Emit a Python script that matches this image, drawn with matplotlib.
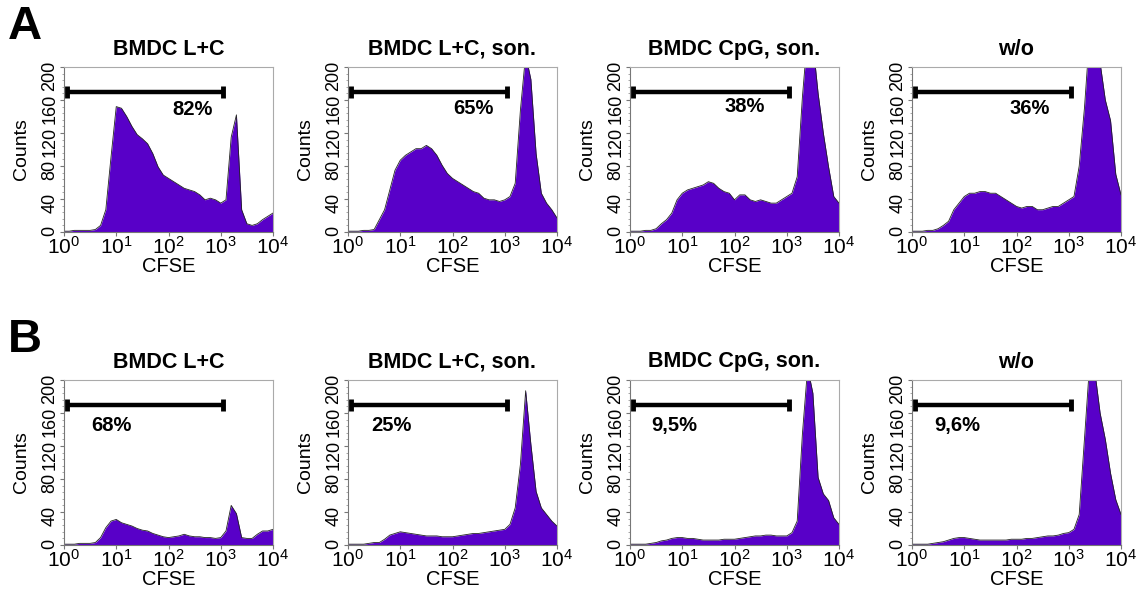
import numpy as np
import matplotlib.pyplot as plt
from matplotlib.ticker import MultipleLocator, LogLocator, NullFormatter

plt.rcParams['font.family'] = ['Liberation Sans', 'DejaVu Sans']
plt.rcParams['mathtext.default'] = 'regular'

# CFSE channel positions (decades, 0.1 steps from 10^0 to 10^4)
log_cfse = np.linspace(0, 4, 41)

titles = ["BMDC L+C", "BMDC L+C, son.", "BMDC CpG, son.", "w/o"]

# counts per channel, row A
a_lc = [1, 1, 2, 2, 2, 2, 3, 8, 27, 91,
        152, 150, 140, 128, 118, 113, 107, 95, 79, 69,
        65, 61, 57, 53, 51, 49, 45, 39, 41, 39,
        35, 39, 115, 142, 27, 10, 8, 10, 15, 19, 23]
a_lc_son = [1, 1, 1, 2, 2, 3, 15, 27, 51, 75,
            87, 93, 97, 101, 101, 105, 101, 93, 81, 71,
            65, 61, 57, 53, 49, 47, 41, 39, 39, 37,
            39, 43, 59, 148, 215, 185, 95, 47, 35, 27, 17]
a_cpg_son = [1, 1, 1, 2, 2, 4, 10, 15, 23, 39,
             47, 51, 53, 55, 57, 61, 59, 53, 49, 47,
             39, 45, 45, 39, 37, 39, 37, 35, 35, 39,
             43, 47, 67, 164, 240, 230, 168, 120, 79, 43, 35]
a_wo = [1, 1, 1, 2, 2, 4, 8, 13, 27, 35,
        43, 47, 47, 49, 49, 47, 47, 43, 39, 35,
        31, 29, 31, 31, 27, 27, 29, 31, 31, 35,
        39, 43, 80, 150, 240, 230, 205, 160, 135, 70, 45]

# counts per channel, row B
b_lc = [1, 1, 1, 2, 2, 2, 3, 9, 21, 29,
        31, 27, 25, 23, 20, 18, 17, 14, 12, 10,
        9, 10, 11, 13, 11, 10, 10, 9, 9, 8,
        9, 17, 48, 38, 9, 8, 8, 13, 17, 17, 19]
b_lc_son = [1, 1, 1, 1, 2, 3, 3, 7, 12, 14,
            16, 15, 14, 13, 12, 11, 11, 11, 10, 10,
            10, 11, 12, 13, 14, 14, 15, 16, 17, 18,
            19, 25, 45, 98, 187, 122, 65, 45, 37, 29, 23]
b_cpg_son = [1, 1, 1, 1, 2, 3, 5, 6, 8, 9,
             9, 8, 8, 7, 6, 6, 6, 6, 7, 7,
             7, 8, 9, 10, 11, 11, 12, 12, 11, 11,
             11, 15, 29, 135, 215, 184, 82, 62, 54, 33, 25]
b_wo = [1, 1, 1, 1, 2, 3, 4, 6, 8, 9,
        9, 8, 7, 6, 6, 6, 6, 6, 6, 7,
        7, 7, 8, 8, 9, 10, 11, 11, 12, 14,
        15, 19, 37, 128, 220, 210, 160, 128, 87, 55, 37]

rows = [[a_lc, a_lc_son, a_cpg_son, a_wo], [b_lc, b_lc_son, b_cpg_son, b_wo]]
percents = [["82%", "65%", "38%", "36%"], ["68%", "25%", "9,5%", "9,6%"]]
pct_x = [[2.47, 2.4, 2.2, 2.25], [0.91, 0.83, 0.85, 0.87]]
pct_y = [[148, 150, 152, 150], [145, 145, 145, 145]]
row_letters = ["A", "B"]

W, H = 1141, 590
fig = plt.figure(figsize=(W / 100, H / 100), dpi=100)
lefts = [64, 348, 630, 912]
tops = [67, 380]
aw, ah = 209, 165
fill_col = '#5800c8'

for r in range(2):
    for c in range(4):
        ax = fig.add_axes([lefts[c] / W, 1 - (tops[r] + ah) / H, aw / W, ah / H])
        x = 10 ** log_cfse
        ax.fill_between(x, rows[r][c], 0, color=fill_col, lw=0)
        ax.plot(x, rows[r][c], color='#222222', lw=0.6)
        ax.set_xscale('log')
        ax.set_xlim(1, 1e4)
        ax.set_ylim(0, 200)
        ax.set_yticks([0, 40, 80, 120, 160, 200])
        ax.set_xticks([1, 10, 100, 1000, 10000])
        ax.yaxis.set_minor_locator(MultipleLocator(8))
        ax.xaxis.set_minor_locator(LogLocator(base=10, subs=np.arange(2, 10)))
        ax.xaxis.set_minor_formatter(NullFormatter())
        ax.tick_params(axis='y', labelrotation=90, labelsize=13, length=3, pad=1, color='#777777')
        ax.tick_params(axis='x', labelsize=15, length=3, pad=0, color='#777777')
        ax.tick_params(which='minor', length=1.5, color='#999999')
        for s in ['left', 'bottom']:
            ax.spines[s].set_color('#777777')
            ax.spines[s].set_linewidth(0.8)
        for s in ['top', 'right']:
            ax.spines[s].set_color('#aaaaaa')
            ax.spines[s].set_linewidth(0.8)
        ax.set_ylabel("Counts", fontsize=14, labelpad=8)
        ax.set_xlabel("CFSE", fontsize=14.5, labelpad=-1)
        ax.set_title(titles[c], fontsize=15.5, fontweight='bold', pad=9)

        # gate marker
        g0, g1 = 10 ** 0.05, 10 ** 3.04
        ax.plot([g0, g1], [170, 170], color='black', lw=3.2, solid_capstyle='butt')
        ax.vlines([g0, g1], 163, 177, color='black', lw=3.5)
        ax.text(10 ** pct_x[r][c], pct_y[r][c], percents[r][c], fontsize=14.5,
                fontweight='bold', ha='center', va='center')

    fig.text(8 / W, 1 - (tops[r] - 28) / H, row_letters[r], fontsize=34,
             fontweight='bold', va='baseline', ha='left')

fig.savefig('out.png', dpi=100)
